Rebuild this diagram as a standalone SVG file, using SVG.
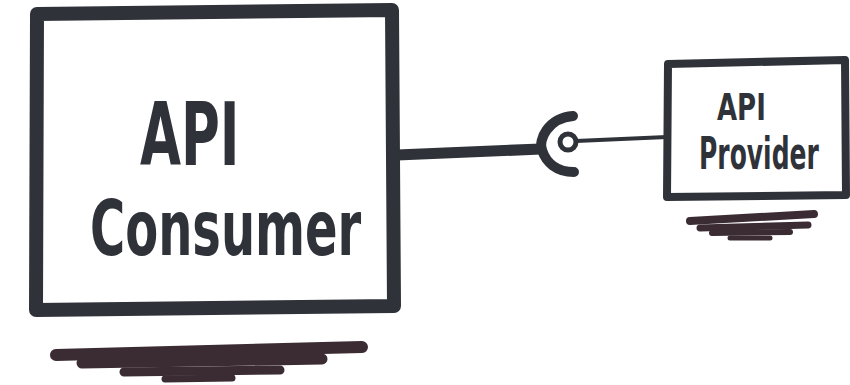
<svg xmlns="http://www.w3.org/2000/svg" width="850" height="385" viewBox="0 0 850 385">
<style>
.box{fill:none;stroke:#2f3339;stroke-linejoin:round;stroke-linecap:round}
.lbl{font-family:"DejaVu Sans","Liberation Sans",sans-serif;fill:#2f3339;font-weight:bold}
.shadow{stroke:#3b2c33;stroke-linecap:round;fill:none}
.wire{stroke:#2f3339;fill:none;stroke-linecap:round}
</style>
<rect width="850" height="385" fill="#ffffff"/>
<g id="consumer">
<path class="box" stroke-width="14" d="M37,14 L392,10 L394,306 L36,310 Z"/>
<text class="lbl" transform="translate(140,165) scale(1,1.65)" font-size="53">API</text>
<text class="lbl" transform="translate(90,255) scale(1,1.6)" font-size="48">Consumer</text>
<g id="consumer-shadow">
<path class="shadow" stroke-width="12" d="M56,355 L362,347"/>
<path class="shadow" stroke-width="11" d="M82,363 L322,359"/>
<path class="shadow" stroke-width="9" d="M124,372 L280,370"/>
<path class="shadow" stroke-width="7" d="M165,379 L232,378"/>
</g>
</g>
<g id="provider">
<path class="box" stroke-width="8" d="M668,64 L845,60 L846,195 L667,197 Z"/>
<text class="lbl" transform="translate(717,120) scale(1,1.4)" font-size="26">API</text>
<text class="lbl" transform="translate(699,169) scale(1,1.8)" font-size="25">Provider</text>
<g id="provider-shadow">
<path class="shadow" stroke-width="8" d="M690,221 L814,214"/>
<path class="shadow" stroke-width="7" d="M700,228 L808,225"/>
<path class="shadow" stroke-width="6" d="M712,233 L790,232"/>
<path class="shadow" stroke-width="5" d="M730,238 L770,238"/>
</g>
</g>
<g id="connectors">
<path class="wire" stroke-width="11" d="M397,155 L541,149"/>
<path class="wire" stroke-width="10" d="M573,116 C548,118 538,140 542,150 C546,162 556,172 574,172"/>
<circle cx="568" cy="142" r="8" fill="none" stroke="#2f3339" stroke-width="5"/>
<path class="wire" stroke-width="4" d="M576,141 L667,137"/>
</g>
</svg>
